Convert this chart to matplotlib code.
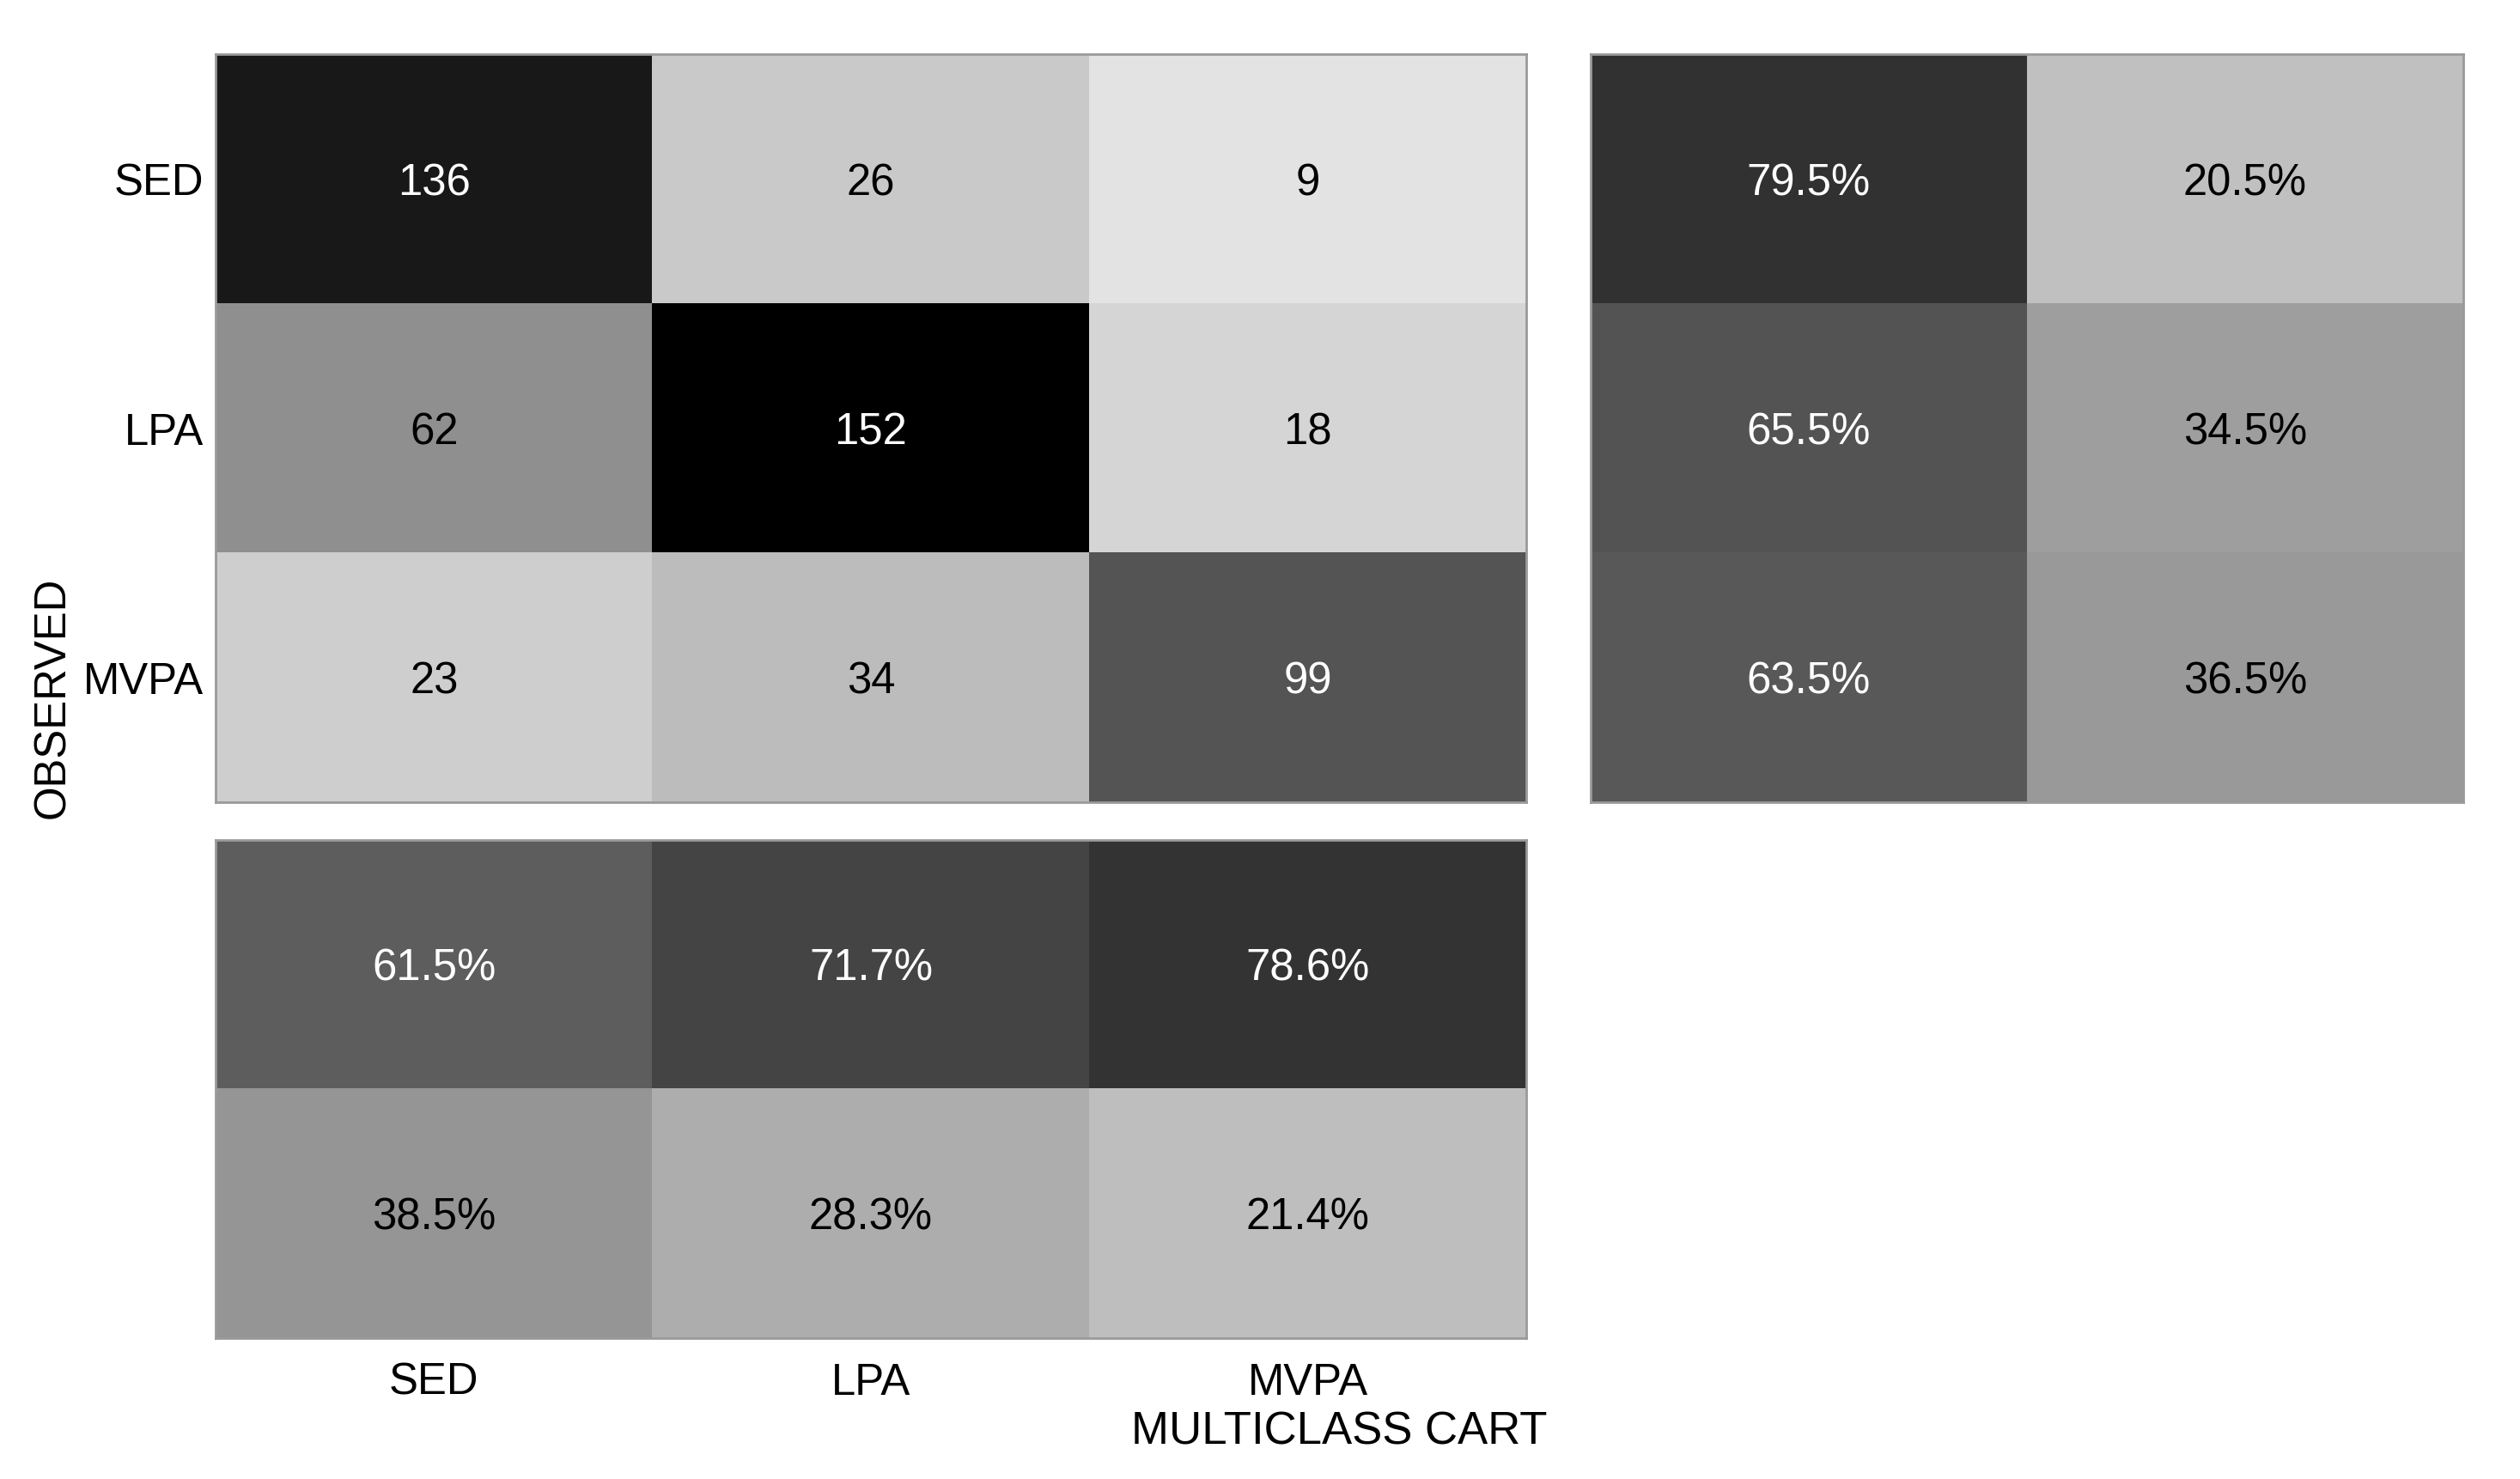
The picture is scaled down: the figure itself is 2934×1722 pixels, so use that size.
import numpy as np
import matplotlib.pyplot as plt
from matplotlib.colors import LinearSegmentedColormap, Normalize

plt.rcParams['font.family'] = ['Liberation Sans', 'DejaVu Sans']

classes = ['SED', 'LPA', 'MVPA']
counts = np.array([[136, 26, 9],
                   [62, 152, 18],
                   [23, 34, 99]])
# row summary (observed): correct / incorrect, in percent
row_pct = np.array([[79.5, 20.5],
                    [65.5, 34.5],
                    [63.5, 36.5]])
# column summary (predicted): correct / incorrect, in percent
col_pct = np.array([[61.5, 71.7, 78.6],
                    [38.5, 28.3, 21.4]])

cmap = LinearSegmentedColormap.from_list('grey', [(0.95, 0.95, 0.95), (0, 0, 0)])
fs = 18.3

fig = plt.figure(figsize=(14.67, 8.61), dpi=200)
W, H = 2934, 1722


def px_axes(x0, y0, x1, y1):
    return fig.add_axes([x0 / W, 1 - y1 / H, (x1 - x0) / W, (y1 - y0) / H])


def draw(ax, data, norm, fmt):
    ax.imshow(data, cmap=cmap, norm=norm, aspect='auto', interpolation='nearest')
    for (i, j), v in np.ndenumerate(data):
        shade = 1 - norm(v)
        ax.text(j, i, fmt(v), ha='center', va='center_baseline', fontsize=fs,
                color='white' if shade * 0.95 < 0.5 else 'black')
    for s in ax.spines.values():
        s.set_color('#9a9a9a')
        s.set_linewidth(1.0)
    ax.tick_params(length=0)
    ax.set_xticks([])
    ax.set_yticks([])


ax_main = px_axes(251, 63, 1777, 934)
draw(ax_main, counts, Normalize(0, counts.max()), lambda v: f'{v:d}')
ax_main.set_yticks(range(3))
ax_main.set_yticklabels(classes, fontsize=fs)
ax_main.tick_params(axis='y', pad=5)

ax_row = px_axes(1852, 63, 2868, 934)
draw(ax_row, row_pct, Normalize(0, 100), lambda v: f'{v:.1f}%')

ax_col = px_axes(251, 978, 1777, 1558)
draw(ax_col, col_pct, Normalize(0, 100), lambda v: f'{v:.1f}%')
ax_col.set_xticks(range(3))
ax_col.set_xticklabels(classes, fontsize=fs)
ax_col.tick_params(axis='x', pad=10)

fig.text(1559 / W, 1 - 1667 / H, 'MULTICLASS CART', ha='center', va='center', fontsize=19)
fig.text(62 / W, 1 - 812 / H, 'OBSERVED', ha='center', va='center', fontsize=fs,
         rotation=90)

fig.savefig('out.png', dpi=200, facecolor='white')
